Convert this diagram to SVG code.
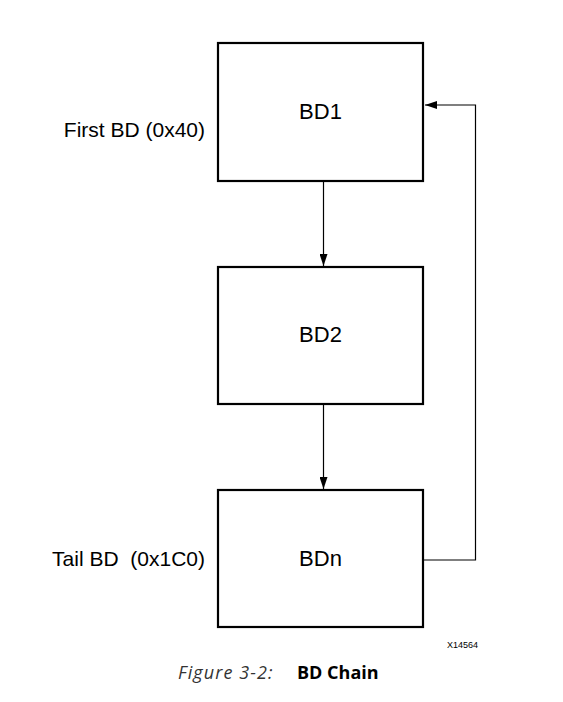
<svg xmlns="http://www.w3.org/2000/svg" width="563" height="702" viewBox="0 0 563 702">
<style>
.box{fill:#fff;stroke:#000;stroke-width:2.2}
.lbl{font-family:"Liberation Sans",Arial,sans-serif;font-size:22px;fill:#000}
.side{font-family:"Liberation Sans",Arial,sans-serif;font-size:21px;fill:#000;text-anchor:end}
.conn{fill:none;stroke:#000;stroke-width:1.2}
.cap{font-family:"Open Sans","Noto Sans",sans-serif;font-size:18px}
</style>
<defs>
<marker id="ah" viewBox="0 0 12 8" refX="12" refY="4" markerWidth="12" markerHeight="8" markerUnits="userSpaceOnUse" orient="auto">
<path d="M0,0 L12,4 L0,8 Z" fill="#000"/>
</marker>
</defs>
<rect width="563" height="702" fill="#fff"/>
<g id="connectors">
<line class="conn" x1="323.5" y1="181" x2="323.5" y2="266" marker-end="url(#ah)"/>
<line class="conn" x1="323.5" y1="404" x2="323.5" y2="489" marker-end="url(#ah)"/>
<polyline class="conn" points="424,560 475.5,560 475.5,105 425,105" marker-end="url(#ah)"/>
</g>
<g id="bd1">
<rect class="box" x="218" y="43" width="205" height="138"/>
<text class="lbl" x="320.5" y="119" text-anchor="middle">BD1</text>
</g>
<g id="bd2">
<rect class="box" x="218" y="267" width="205" height="137"/>
<text class="lbl" x="320.5" y="342" text-anchor="middle">BD2</text>
</g>
<g id="bdn">
<rect class="box" x="218" y="490" width="205" height="137"/>
<text class="lbl" x="320.5" y="566" text-anchor="middle">BDn</text>
</g>
<text class="side" x="205" y="137">First BD (0x40)</text>
<text class="side" x="205" y="566" xml:space="preserve">Tail BD  (0x1C0)</text>
<text x="478" y="648" font-family="Liberation Sans,Arial,sans-serif" font-size="9" text-anchor="end">X14564</text>
<text class="cap" x="178" y="679" font-style="italic" fill="#333" letter-spacing="1.1">Figure 3-2:</text>
<text class="cap" x="297" y="679" font-weight="bold" fill="#000">BD Chain</text>
</svg>
